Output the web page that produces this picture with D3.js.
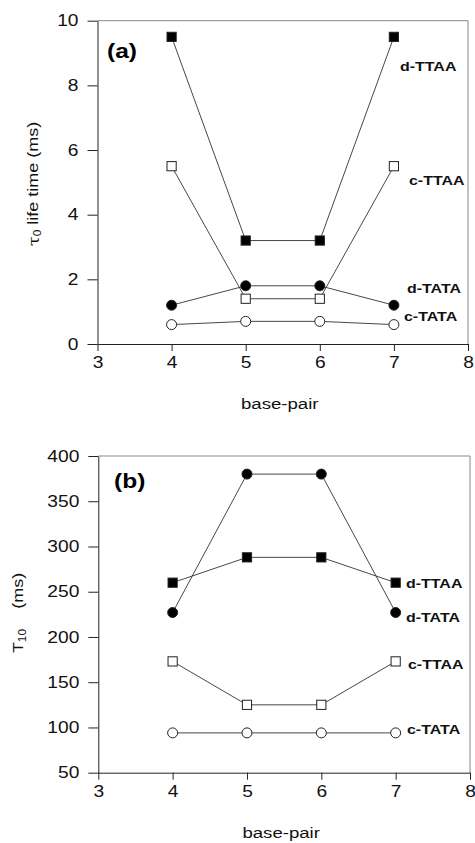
<!DOCTYPE html>
<html>
<head>
<meta charset="utf-8">
<script src="https://cdn.jsdelivr.net/npm/d3@7"></script>
<style>
  body { margin: 0; background: #fff; }
  svg { font-family: "Liberation Sans", Arial, sans-serif; }
  .axis text { font-size: 16px; fill: #111; }
  .axis path, .axis line { stroke: #222; }
  .lbl { font-size: 13.3px; font-weight: bold; fill: #111; }
</style>
</head>
<body>
<script>
// base pairs (x values)
const basePairs = [4, 5, 6, 7];

// panel (a) tau0 life time (ms)
const a_dTTAA = [9.5, 3.2, 3.2, 9.5];
const a_cTTAA = [5.5, 1.4, 1.4, 5.5];
const a_dTATA = [1.2, 1.8, 1.8, 1.2];
const a_cTATA = [0.6, 0.7, 0.7, 0.6];

// panel (b) T10 (ms)
const b_dTTAA = [260, 288, 288, 260];
const b_dTATA = [227, 380, 380, 227];
const b_cTTAA = [173, 125, 125, 173];
const b_cTATA = [94, 94, 94, 94];

const xTicks = [3, 4, 5, 6, 7, 8];
const aTicks = [0, 2, 4, 6, 8, 10];
const bTicks = [50, 100, 150, 200, 250, 300, 350, 400];

// the scanned figure has slightly wide lettering
const SX = 1.2;

const svg = d3.select("body").append("svg")
    .attr("width", 475)
    .attr("height", 843);

// place a horizontally stretched text at (x, y)
function wideText(parent, x, y, txt) {
    return parent.append("text")
        .attr("transform", "translate(" + x + "," + y + ") scale(" + SX + ",1)")
        .attr("dominant-baseline", "middle")
        .text(txt);
}

function panel(opts) {
    const g = svg.append("g");
    const x = d3.scaleLinear().domain([3, 8]).range([opts.left, opts.right]);
    const y = d3.scaleLinear().domain(opts.ydom).range([opts.bottom, opts.top]);

    // frame top/right
    g.append("line").attr("x1", opts.left).attr("x2", opts.right)
        .attr("y1", opts.top).attr("y2", opts.top)
        .attr("stroke", "#888").attr("stroke-width", 1);
    g.append("line").attr("x1", opts.right).attr("x2", opts.right)
        .attr("y1", opts.top).attr("y2", opts.bottom)
        .attr("stroke", "#888").attr("stroke-width", 1);

    const xa = g.append("g").attr("class", "axis")
        .attr("transform", "translate(0," + opts.bottom + ")")
        .call(d3.axisBottom(x).tickValues(xTicks).tickSize(7).tickPadding(5.5).tickSizeOuter(0).tickFormat(d3.format("d")));
    xa.selectAll("text").attr("transform", "scale(" + SX + ",1)");

    const ya = g.append("g").attr("class", "axis")
        .attr("transform", "translate(" + opts.left + ",0)")
        .call(d3.axisLeft(y).tickValues(opts.yticks).tickSize(10).tickSizeOuter(0).tickFormat(d3.format("d")));
    ya.selectAll("text")
        .attr("x", -19 / SX)
        .attr("transform", "scale(" + SX + ",1)");

    const line = d3.line()
        .x(function (d, i) { return x(basePairs[i]); })
        .y(function (d) { return y(d); });

    opts.series.forEach(function (s) {
        g.append("path").datum(s.values)
            .attr("d", line)
            .attr("fill", "none")
            .attr("stroke", "#333")
            .attr("stroke-width", 0.9);
    });
    opts.series.forEach(function (s) {
        const fill = s.filled ? "#000" : "#fff";
        const pts = g.selectAll(null).data(s.values).enter();
        if (s.shape === "square") {
            pts.append("rect")
                .attr("x", function (d, i) { return x(basePairs[i]) - 4.6; })
                .attr("y", function (d) { return y(d) - 4.6; })
                .attr("width", 9.2).attr("height", 9.2)
                .attr("fill", fill).attr("stroke", "#222").attr("stroke-width", 1);
        } else {
            pts.append("circle")
                .attr("cx", function (d, i) { return x(basePairs[i]); })
                .attr("cy", function (d) { return y(d); })
                .attr("r", 5)
                .attr("fill", fill).attr("stroke", "#222").attr("stroke-width", 1);
        }
        wideText(g, s.lx, s.ly, s.name).attr("class", "lbl");
    });

    wideText(g, opts.tagX, opts.tagY, opts.tag)
        .attr("font-size", 20.5).attr("font-weight", "bold");

    wideText(g, (opts.left + opts.right) / 2 - 3, opts.bottom + 61, "base-pair")
        .attr("text-anchor", "middle")
        .attr("font-size", 15.5).attr("fill", "#111");

    return { g: g, x: x, y: y };
}

panel({
    left: 97.5, right: 468, top: 20.7, bottom: 344,
    ydom: [0, 10], yticks: aTicks, tag: "(a)", tagX: 107, tagY: 53,
    series: [
        { name: "d-TTAA", values: a_dTTAA, shape: "square", filled: true, lx: 400, ly: 67 },
        { name: "c-TTAA", values: a_cTTAA, shape: "square", filled: false, lx: 409, ly: 181 },
        { name: "d-TATA", values: a_dTATA, shape: "circle", filled: true, lx: 407, ly: 289 },
        { name: "c-TATA", values: a_cTATA, shape: "circle", filled: false, lx: 404, ly: 317 }
    ]
});

panel({
    left: 98.3, right: 470, top: 456, bottom: 772.7,
    ydom: [50, 400], yticks: bTicks, tag: "(b)", tagX: 114, tagY: 483,
    series: [
        { name: "d-TTAA", values: b_dTTAA, shape: "square", filled: true, lx: 406, ly: 584 },
        { name: "d-TATA", values: b_dTATA, shape: "circle", filled: true, lx: 406, ly: 618 },
        { name: "c-TTAA", values: b_cTTAA, shape: "square", filled: false, lx: 408, ly: 665 },
        { name: "c-TATA", values: b_cTATA, shape: "circle", filled: false, lx: 407, ly: 730 }
    ]
});

// y axis titles
const ta = svg.append("text")
    .attr("transform", "translate(34,184) rotate(-90) scale(" + SX + ",1)")
    .attr("text-anchor", "middle")
    .attr("dominant-baseline", "middle")
    .attr("font-size", 15).attr("fill", "#111");
ta.append("tspan").attr("font-family", "DejaVu Serif").text("\u03c4");
ta.append("tspan").attr("font-size", 10).attr("dy", 4).text("0");
ta.append("tspan").attr("dy", -4).text(" life time (ms)");

const tb = svg.append("text")
    .attr("transform", "translate(19,613) rotate(-90) scale(" + SX + ",1)")
    .attr("text-anchor", "middle")
    .attr("dominant-baseline", "middle")
    .attr("font-size", 15).attr("fill", "#111");
tb.append("tspan").text("T");
tb.append("tspan").attr("font-size", 10).attr("dy", 4).text("10");
tb.append("tspan").attr("dy", -4).attr("xml:space", "preserve").text("    (ms)");
</script>
</body>
</html>
